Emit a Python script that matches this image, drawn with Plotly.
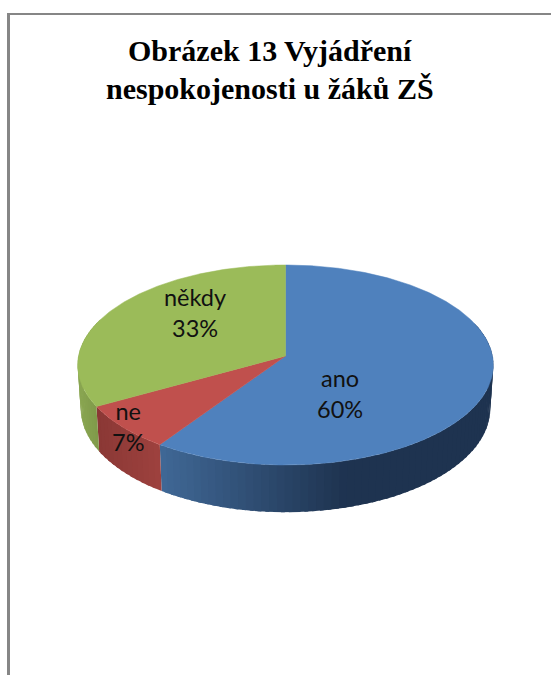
import math
import plotly.graph_objects as go

# --- data ---
categories = ["ano", "ne", "někdy"]
values = [59.5, 7.4, 33.1]
title_lines = ["Obrázek 13 Vyjádření", "nespokojenosti u žáků ZŠ"]

# --- style / layout ---
W, H = 551, 675
TOP_COLORS = ["#4F81BD", "#C0504D", "#9BBB59"]
WALL_LIGHT = [(64, 104, 150), (158, 65, 62), (137, 165, 81)]
WALL_DARK = [(30, 51, 80), (138, 56, 53), (125, 152, 72)]
LABEL_CENTERS = [(340, 393), (127.5, 426), (195, 312.5)]
BORDER = "#868686"

# perspective pie geometry
CX, TOP_Y, A, B, K = 285.5, 356.0, 207.0, 99.2, 0.09
BOT_Y, A2, B2 = 399.0, 204.0, 103.0


def project(theta, y0, a, b):
    u, v = math.sin(theta), -math.cos(theta)
    d = 1 - K * v
    return CX + a * u / d, y0 + b * v / d


def arc(t0, t1, y0, a, b, step=1.0):
    n = max(2, int(abs(math.degrees(t1 - t0)) / step) + 1)
    return [project(t0 + (t1 - t0) * i / (n - 1), y0, a, b) for i in range(n)]


def mix(c0, c1, f):
    f = max(0, min(1, f))
    return "rgb(%d,%d,%d)" % tuple(round(p + (q - p) * f) for p, q in zip(c0, c1))


total = sum(values)
edges = [0.0]
for val in values:
    edges.append(edges[-1] + val / total * 2 * math.pi)

fig = go.Figure()


def poly(pts, color, width=0.0):
    fig.add_trace(go.Scatter(
        x=[p[0] for p in pts], y=[p[1] for p in pts], mode="lines", fill="toself",
        fillcolor=color, line=dict(color=color, width=width), hoverinfo="skip", showlegend=False))


# side walls, drawn in small strips for the shading; each strip overlaps the next
for i in range(len(values)):
    t0, t1 = edges[i], edges[i + 1]
    n = max(1, int(math.degrees(t1 - t0) / 2))
    for j in range(n):
        a0 = t0 + (t1 - t0) * j / n
        a1 = t0 + (t1 - t0) * (j + 1) / n
        if math.cos((a0 + a1) / 2) > 0.35:
            continue  # hidden behind the top face
        a1x = min(a1 + math.radians(1.0), t1)
        top = arc(a0, a1x, TOP_Y, A, B)
        bot = arc(a1x, a0, BOT_Y, A2, B2)
        xm = project((a0 + a1) / 2, TOP_Y, A, B)[0]
        if i == 0:
            f = (160 - xm) / (160 - 345)
        elif i == 1:
            f = (160 - xm) / 65
        else:
            f = (xm - 80) / 20
        poly(top + bot + top[:1], mix(WALL_LIGHT[i], WALL_DARK[i], f))

# top face
for i in range(len(values)):
    pts = [(CX, TOP_Y)] + arc(edges[i], edges[i + 1], TOP_Y, A, B, 0.5) + [(CX, TOP_Y)]
    poly(pts, TOP_COLORS[i], 0.5)

annotations = []
for cat, val, (lx, ly) in zip(categories, values, LABEL_CENTERS):
    annotations.append(dict(
        x=lx, y=ly, xref="x", yref="y", text=f"{cat}<br>{round(val)}%", showarrow=False,
        xanchor="center", yanchor="middle",
        font=dict(family="Lato", size=23.5, color="#111111")))
for line, ty in zip(title_lines, [50, 88]):
    annotations.append(dict(
        x=270, y=ty, xref="x", yref="y", text=f"<b>{line}</b>", showarrow=False,
        xanchor="center", yanchor="middle",
        font=dict(family="Liberation Serif", size=30, color="#000000")))

shapes = [
    dict(type="line", xref="x", yref="y", x0=8.5, x1=8.5, y0=13, y1=H,
         line=dict(color=BORDER, width=3)),
    dict(type="line", xref="x", yref="y", x0=7, x1=W, y0=14, y1=14,
         line=dict(color=BORDER, width=2)),
]

fig.update_layout(
    width=W, height=H, margin=dict(l=0, r=0, t=0, b=0),
    paper_bgcolor="white", plot_bgcolor="white", showlegend=False,
    xaxis=dict(range=[0, W], visible=False, fixedrange=True),
    yaxis=dict(range=[H, 0], visible=False, fixedrange=True),
    annotations=annotations, shapes=shapes,
)
fig.write_html("out.html", config={"displayModeBar": False},
               post_script="document.body.style.margin='0';")
